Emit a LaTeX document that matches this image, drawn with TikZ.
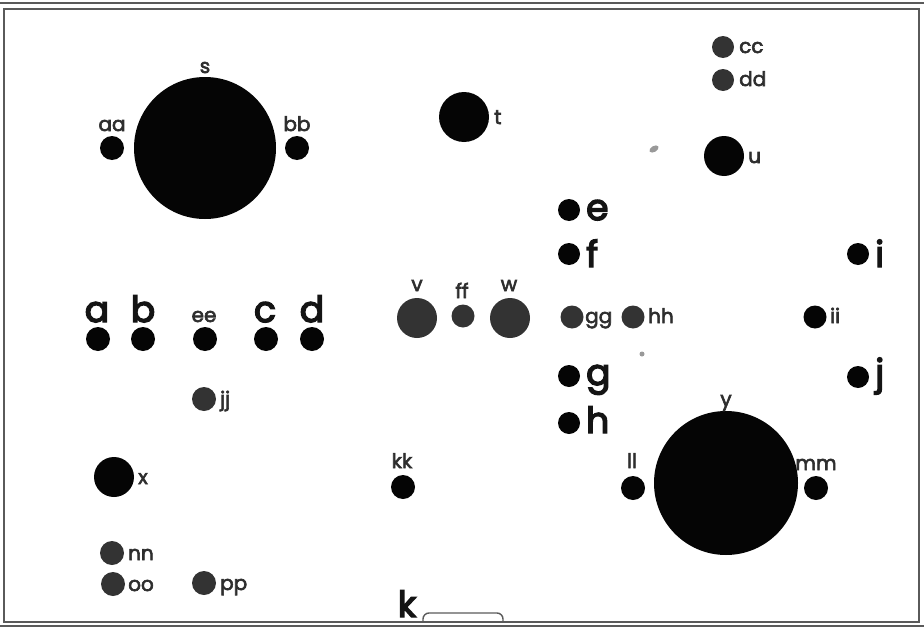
\documentclass[tikz,border=0pt]{standalone}
\usepackage{fontspec}
\setmainfont{Poppins}
\newfontfamily\bigfont{Poppins}[FakeBold=4]
\newfontfamily\smallfont{Poppins}[FakeBold=3]
\definecolor{holeblk}{HTML}{050505}
\definecolor{holegry}{HTML}{333333}
\definecolor{labgry}{HTML}{2E2E2E}
\definecolor{framegry}{HTML}{5A5A5A}
\begin{document}
\begin{tikzpicture}[x=1pt,y=-1pt,
  hole/.style={circle,inner sep=0pt,fill=holeblk,minimum size=#1},
  ghole/.style={circle,inner sep=0pt,fill=holegry,minimum size=#1},
  lab/.style={font=\smallfont\fontsize{20}{20}\selectfont,text=labgry,inner sep=0pt,anchor=base},
  labr/.style={lab,anchor=base west},
  big/.style={font=\bigfont\fontsize{36}{36}\selectfont,text=black!92,inner sep=0pt,anchor=base},
  bigr/.style={big,anchor=base west},
  frame/.style={draw=framegry,line width=1.4pt},
  speck/.style={fill=gray!80,draw=none}
]
\useasboundingbox (0,0) rectangle (924,629);
% frame
\draw[frame] (0,3) -- (924,3);
\draw[frame] (4,9) rectangle (919,622);
\draw[frame] (0,626) -- (924,626);
\draw[frame,rounded corners=6pt] (423,622) -- (423,613) -- (503,613) -- (503,622);
\node[big,anchor=base] (k) at (407,617) {k};

% top-left large hole s with aa, bb
\node[hole=142pt] (s) at (205,148) {};
\node[lab] (slab) at (205,73) {s};
\node[hole=24pt] (aa) at (112,148) {};
\node[lab] (aalab) at (112,131) {aa};
\node[hole=24pt] (bb) at (297,148) {};
\node[lab] (bblab) at (297,131) {bb};

% t, u, cc, dd
\node[hole=50pt] (t) at (464,117) {};
\node[labr] (tlab) at (494,124) {t};
\node[hole=40pt] (u) at (724,156) {};
\node[labr] (ulab) at (748,163) {u};
\node[ghole=22pt] (cc) at (723,47) {};
\node[labr] (cclab) at (739,53) {cc};
\node[ghole=22pt] (dd) at (723,80) {};
\node[labr] (ddlab) at (739,86) {dd};
\fill[speck,rotate around={30:(654,149)}] (654,149) ellipse (5pt and 3pt);
\fill[speck] (642,354) circle (2.5pt);

% right column e f g h i j
\node[hole=22pt] (e) at (569,210) {};
\node[bigr] (elab) at (586,220) {e};
\node[hole=22pt] (f) at (569,254) {};
\node[bigr] (flab) at (586,267) {f};
\node[hole=22pt] (g) at (569,376) {};
\node[bigr] (glab) at (586,385) {g};
\node[hole=22pt] (h) at (569,423) {};
\node[bigr] (hlab) at (586,433) {h};
\node[hole=22pt] (i) at (858,254) {};
\node[bigr] (ilab) at (875,267) {i};
\node[hole=22pt] (j) at (858,377) {};
\node[bigr] (jlab) at (875,385) {j};

% gg hh ii
\node[ghole=23pt] (gg) at (572,317) {};
\node[labr] (gglab) at (585,323) {gg};
\node[ghole=23pt] (hh) at (633,317) {};
\node[labr] (hhlab) at (648,323) {hh};
\node[hole=23pt] (ii) at (815,317) {};
\node[labr] (iilab) at (830,323) {ii};

% v ff w
\node[ghole=40pt] (v) at (417,318) {};
\node[lab] (vlab) at (417,291) {v};
\node[ghole=23pt] (ff) at (463,316) {};
\node[lab] (fflab) at (462,298) {ff};
\node[ghole=40pt] (w) at (510,318) {};
\node[lab] (wlab) at (509,291) {w};

% a b ee c d
\node[hole=24pt] (a) at (98,339) {};
\node[big] (alab) at (97,322) {a};
\node[hole=24pt] (b) at (143,339) {};
\node[big] (blab) at (143,322) {b};
\node[hole=24pt] (ee) at (205,339) {};
\node[lab] (eelab) at (204,322) {ee};
\node[hole=24pt] (c) at (266,339) {};
\node[big] (clab) at (265,322) {c};
\node[hole=24pt] (d) at (312,339) {};
\node[big] (dlab) at (312,322) {d};

% jj, x, nn oo pp
\node[ghole=24pt] (jj) at (204,399) {};
\node[labr] (jjlab) at (220,406) {jj};
\node[hole=40pt] (x) at (114,477) {};
\node[labr] (xlab) at (138,484) {x};
\node[ghole=24pt] (nn) at (112,553) {};
\node[labr] (nnlab) at (128,560) {nn};
\node[ghole=24pt] (oo) at (113,584) {};
\node[labr] (oolab) at (128,591) {oo};
\node[ghole=24pt] (pp) at (204,583) {};
\node[labr] (pplab) at (220,590) {pp};

% kk, y with ll mm
\node[hole=24pt] (kk) at (403,487) {};
\node[lab] (kklab) at (402,468) {kk};
\node[hole=144pt] (y) at (726,483) {};
\node[lab] (ylab) at (726,406) {y};
\node[hole=24pt] (ll) at (633,488) {};
\node[lab] (lllab) at (632,468) {ll};
\node[hole=24pt] (mm) at (816,488) {};
\node[lab] (mmlab) at (816,470) {mm};
\end{tikzpicture}
\end{document}
